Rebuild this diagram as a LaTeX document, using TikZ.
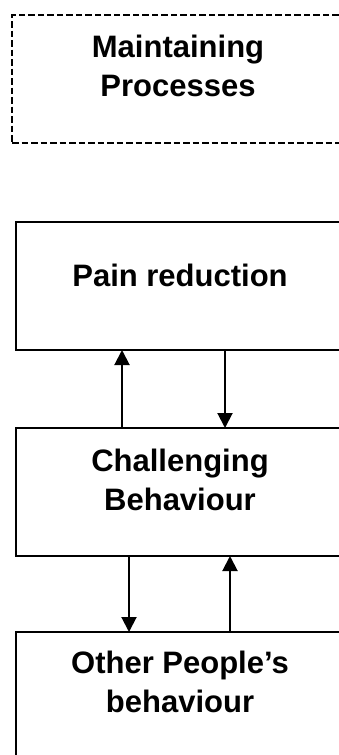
\documentclass[tikz,border=0pt]{standalone}
\usepackage{fontspec}
\setmainfont{Liberation Sans}
\usetikzlibrary{arrows.meta}
\begin{document}
\begin{tikzpicture}[x=1pt,y=-1pt,
  box/.style={draw, line width=2pt, minimum width=328pt, minimum height=128pt,
    anchor=north west, inner sep=0pt, outer sep=0pt},
  dbox/.style={box, dash pattern=on 6.5pt off 3pt, minimum width=332pt},
  lbl/.style={font=\fontsize{31}{39}\selectfont\bfseries, align=center,
    anchor=base, inner sep=0pt},
  link/.style={line width=2pt, -{Triangle[length=15pt,width=15pt]}}]
\useasboundingbox (0,0) rectangle (339,755);
\clip (0,0) rectangle (339,755);

% boxes
\node[dbox] (maint) at (12,15) {};
\node[box] (pain) at (16,222) {};
\node[box] (chal) at (16,428) {};
\node[box] (other) at (16,632) {};

% labels (base anchor = baseline of the last line)
\node[lbl] (tmaint) at ([yshift=-81pt]maint.north) {Maintaining\\Processes};
\node[lbl] (tpain) at ([yshift=-64pt]pain.north) {Pain reduction};
\node[lbl] (tchal) at ([yshift=-82pt]chal.north) {Challenging\\Behaviour};
\node[lbl] (tother) at ([yshift=-80pt]other.north) {Other People’s\\behaviour};

% connectors
\draw[link] ([xshift=106pt]chal.north west) -- ([xshift=106pt]pain.south west);
\draw[link] ([xshift=209pt]pain.south west) -- ([xshift=209pt]chal.north west);
\draw[link] ([xshift=113pt]chal.south west) -- ([xshift=113pt]other.north west);
\draw[link] ([xshift=214pt]other.north west) -- ([xshift=214pt]chal.south west);
\end{tikzpicture}
\end{document}
